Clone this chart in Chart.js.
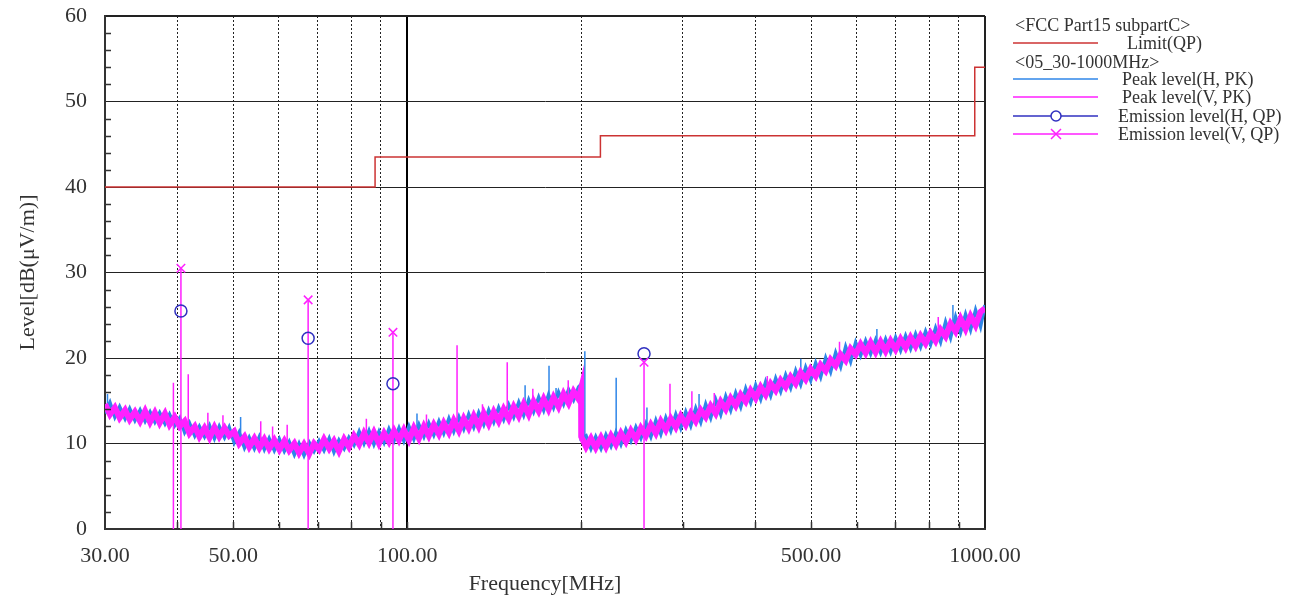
<!DOCTYPE html>
<html>
<head>
<meta charset="utf-8">
<script src="https://cdn.jsdelivr.net/npm/chart.js@4.4.1/dist/chart.umd.min.js"></script>
<style>
  html, body { margin: 0; padding: 0; background: #fff; }
  #wrap { position: relative; width: 1295px; height: 600px; }
  #graph { display: block; }
  #legend div { position: absolute; font-family: "Liberation Serif", serif; font-size: 18px; color: #333; line-height: 20px; white-space: nowrap; }
  #legend svg { position: absolute; left: 1005px; top: 30px; }
</style>
</head>
<body>
<div id="wrap">
  <canvas id="graph"></canvas>
  <div id="legend">
    <div style="left:1015px;top:15px">&lt;FCC Part15 subpartC&gt;</div>
    <div style="left:1127px;top:33px">Limit(QP)</div>
    <div style="left:1015px;top:52px">&lt;05_30-1000MHz&gt;</div>
    <div style="left:1122px;top:69px">Peak level(H, PK)</div>
    <div style="left:1122px;top:87px">Peak level(V, PK)</div>
    <div style="left:1118px;top:106px">Emission level(H, QP)</div>
    <div style="left:1118px;top:124px">Emission level(V, QP)</div>
    <svg width="100" height="115">
      <line x1="8" y1="13" x2="93" y2="13" stroke="#cc3333" stroke-width="1.5"/>
      <line x1="8" y1="49" x2="93" y2="49" stroke="#2f86e8" stroke-width="1.5"/>
      <line x1="8" y1="67" x2="93" y2="67" stroke="#ff20ff" stroke-width="1.5"/>
      <line x1="8" y1="86" x2="93" y2="86" stroke="#3030c0" stroke-width="1.5"/>
      <circle cx="51" cy="86" r="5" fill="#fff" stroke="#3030c0" stroke-width="1.5"/>
      <line x1="8" y1="104" x2="93" y2="104" stroke="#ff20ff" stroke-width="1.5"/>
      <path d="M46 99 L56 109 M56 99 L46 109" stroke="#ff20ff" stroke-width="1.5"/>
    </svg>
  </div>
</div>
<script>
// x grid / ticks (MHz)
const xGrid = [30, 40, 50, 60, 70, 80, 90, 100, 200, 300, 400, 500, 600, 700, 800, 900, 1000];
const xLabels = [30, 50, 100, 500, 1000];

// limit line FCC Part15 subpartC (QP)
const limitFreq = [30, 88, 88, 216, 216, 960, 960, 1000];
const limitLevel = [40, 40, 43.5, 43.5, 46, 46, 54, 54];

// peak scan frequencies (MHz)
const freqs = [
  30, 30.6, 31.2, 31.8, 32.5, 33.1, 33.8, 34.5, 35.2, 35.9,
  36.6, 37.3, 38.1, 38.8, 39.6, 40.4, 41.2, 42.0, 42.9, 43.7,
  44.6, 45.5, 46.4, 47.3, 48.3, 49.2, 50.2, 51.2, 52.3, 53.3,
  54.4, 55.5, 56.6, 57.7, 58.9, 60.1, 61.3, 62.5, 63.8, 65.0,
  66.3, 67.7, 69.0, 70.4, 71.8, 73.3, 74.7, 76.2, 77.8, 79.3,
  80.9, 82.6, 84.2, 85.9, 87.6, 89.4, 91.2, 93.0, 94.9, 96.8,
  98.7, 100.7, 102.7, 104.8, 106.9, 109.0, 111.2, 113.5, 115.7, 118.1,
  120.4, 122.9, 125.3, 127.8, 130.4, 133.0, 135.7, 138.4, 141.2, 144.0,
  146.9, 149.9, 152.9, 156.0, 159.1, 162.3, 165.5, 168.9, 172.3, 175.7,
  179.2, 182.8, 186.5, 190.3, 194.1, 198.0, 200.0, 200.1, 204.0, 208.0,
  212.0, 216.5, 220.8, 225.3, 229.8, 234.4, 239.1, 243.9, 248.8, 253.8,
  258.9, 264.1, 269.4, 274.8, 280.3, 285.9, 291.7, 297.5, 303.5, 309.6,
  315.8, 322.2, 328.6, 335.2, 342.0, 348.9, 355.9, 363.0, 370.3, 377.8,
  385.4, 393.1, 401.0, 409.1, 417.3, 425.7, 434.3, 443.0, 451.9, 461.0,
  470.3, 479.8, 489.4, 499.3, 509.3, 519.5, 530.0, 540.6, 551.5, 562.6,
  573.9, 585.4, 597.2, 609.2, 621.5, 634.0, 646.7, 659.7, 673.0, 686.5,
  700.3, 714.4, 728.8, 743.4, 758.4, 773.6, 789.2, 805.1, 821.3, 837.8,
  854.6, 871.8, 889.4, 907.2, 925.5, 944.1, 963.1, 982.5, 1000
];

// Peak level(H, PK)
const peakH = [
  13.5, 14.8, 13.1, 14.3, 12.9, 14.1, 12.7, 13.9, 12.6, 13.7,
  12.5, 13.6, 12.3, 13.4, 12.1, 13.0, 11.3, 12.4, 10.9, 12.0,
  10.8, 12.1, 10.6, 12.0, 10.7, 11.9, 10.1, 11.3, 9.5, 10.7,
  9.4, 10.8, 9.3, 10.6, 9.2, 10.5, 9.1, 10.2, 8.7, 10.0,
  8.6, 10.1, 9.1, 10.3, 9.2, 10.6, 9.0, 10.4, 9.4, 10.7,
  9.8, 11.4, 10.0, 11.5, 9.9, 11.4, 10.1, 11.7, 10.3, 11.8,
  10.3, 12.0, 10.5, 12.2, 10.8, 12.4, 11.0, 12.6, 11.2, 12.9,
  11.4, 13.1, 11.7, 13.4, 11.9, 13.6, 12.2, 13.9, 12.5, 14.2,
  12.8, 14.5, 13.1, 14.8, 13.3, 15.1, 13.7, 15.4, 13.9, 15.7,
  14.2, 16.0, 14.6, 16.3, 15.1, 16.6, 16.9, 10.6, 10.9, 9.4,
  10.8, 9.4, 11.0, 9.7, 11.3, 9.9, 11.6, 10.3, 11.9, 10.6,
  12.3, 10.8, 12.7, 11.1, 13.0, 11.5, 13.4, 11.8, 13.7, 12.1,
  14.1, 12.5, 14.6, 13.0, 15.1, 13.4, 15.5, 13.9, 15.9, 14.3,
  16.4, 14.8, 16.8, 15.2, 17.2, 15.6, 17.6, 16.1, 18.0, 16.5,
  18.5, 16.9, 18.9, 17.4, 19.4, 17.8, 20.0, 18.4, 20.6, 19.0,
  21.3, 19.6, 21.8, 20.3, 22.0, 20.5, 22.1, 20.6, 22.2, 20.7,
  22.4, 20.9, 22.6, 21.1, 22.8, 21.3, 23.1, 21.6, 23.5, 21.9,
  24.2, 22.4, 24.8, 23.0, 25.1, 23.3, 25.6, 23.7, 26.2
];

// Peak level(V, PK)
const peakV = [
  14.6, 13.4, 14.2, 13.0, 13.9, 12.8, 13.7, 12.6, 13.8, 12.5,
  13.6, 12.4, 13.5, 12.2, 13.1, 12.0, 12.6, 11.2, 12.0, 10.8,
  11.8, 10.7, 11.9, 10.8, 11.8, 10.9, 11.4, 10.0, 10.8, 9.6,
  10.6, 9.5, 10.5, 9.4, 10.4, 9.3, 10.3, 9.2, 10.0, 8.9,
  9.9, 8.8, 10.0, 9.3, 10.5, 9.4, 10.3, 9.1, 10.5, 9.6,
  10.9, 9.9, 11.2, 10.1, 11.3, 10.0, 11.2, 10.2, 11.5, 10.4,
  11.6, 10.4, 11.8, 10.6, 12.0, 10.9, 12.2, 11.1, 12.4, 11.3,
  12.7, 11.5, 12.9, 11.8, 13.2, 12.0, 13.5, 12.3, 13.7, 12.6,
  14.0, 12.9, 14.3, 13.2, 14.6, 13.4, 14.9, 13.8, 15.2, 14.0,
  15.4, 14.3, 15.8, 14.7, 16.1, 15.2, 16.4, 10.8, 9.6, 10.6,
  9.5, 10.7, 9.6, 10.9, 9.9, 11.2, 10.2, 11.5, 10.5, 11.8,
  10.9, 12.2, 11.2, 12.6, 11.6, 12.9, 11.9, 13.2, 12.2, 13.5,
  12.6, 13.9, 13.1, 14.4, 13.5, 14.9, 14.0, 15.3, 14.4, 15.7,
  14.9, 16.2, 15.3, 16.6, 15.7, 17.0, 16.2, 17.4, 16.6, 17.8,
  17.0, 18.3, 17.5, 18.7, 17.9, 19.2, 18.5, 19.8, 19.1, 20.4,
  19.7, 21.1, 20.4, 21.6, 20.6, 21.8, 20.7, 21.9, 20.8, 22.0,
  21.0, 22.2, 21.2, 22.4, 21.4, 22.6, 21.7, 22.9, 22.0, 23.3,
  22.5, 24.0, 23.1, 24.6, 23.4, 24.9, 23.8, 25.4, 25.8
];

// narrow spikes in the peak traces (from, to)
const spikeFreqV = [39.4, 41.8, 45.2, 48.0, 55.8, 58.5, 62.0, 85.0, 108.0, 122.0, 135.0, 149.0, 165.0, 190.0, 285.0, 311.0, 340.0, 420.0, 560.0, 830.0];
const spikeBaseV = [0, 12.0, 11.5, 11.2, 10.0, 9.9, 9.8, 10.7, 11.5, 12.0, 12.8, 13.5, 14.2, 15.2, 12.4, 13.0, 14.0, 16.0, 19.8, 22.5];
const spikeTopV = [17.1, 18.1, 13.6, 13.3, 12.6, 12.0, 12.2, 12.9, 13.4, 21.5, 14.6, 19.5, 16.4, 17.4, 17.0, 16.1, 15.9, 17.9, 21.9, 24.8];

const spikeFreqH = [30.3, 51.5, 104.0, 160.0, 176.0, 181.0, 203.0, 230.0, 260.0, 320.0, 480.0, 650.0, 880.0];
const spikeBaseH = [13.8, 10.5, 11.2, 14.0, 14.6, 14.8, 10.0, 10.5, 11.5, 13.3, 18.0, 21.2, 23.5];
const spikeTopH = [15.8, 13.1, 13.5, 16.8, 19.1, 16.5, 20.8, 17.7, 14.2, 15.8, 19.9, 23.4, 26.2];

// QP emission levels
const qpFreq = [40.6, 67.4, 94.5, 257.0];
const qpLevelH = [25.5, 22.3, 17.0, 20.5];
const qpLevelV = [30.5, 26.8, 23.0, 19.5];

const fontFamily = '"Liberation Serif", "DejaVu Serif", serif';

function pts(xs, ys) {
  return xs.map((f, i) => ({x: f, y: ys[i]}));
}
function impulses(xs, lo, hi) {
  return xs.flatMap((f, i) => [{x: f, y: lo[i]}, {x: f, y: hi[i]}, {x: f, y: null}]);
}

// tick marks drawn inside the frame
const innerTicks = {
  id: 'innerTicks',
  afterDraw(chart) {
    const {ctx, chartArea, scales: {x, y}} = chart;
    ctx.save();
    ctx.strokeStyle = '#333';
    ctx.lineWidth = 1.5;
    ctx.beginPath();
    for (let v = 2; v < 60; v += 2) {
      if (v % 10 === 0) continue;
      const py = Math.round(y.getPixelForValue(v)) + 0.5;
      ctx.moveTo(chartArea.left, py);
      ctx.lineTo(chartArea.left + 6, py);
    }
    xGrid.forEach(f => {
      if (f === 30 || f === 1000) return;
      const px = Math.round(x.getPixelForValue(f)) + 0.5;
      ctx.moveTo(px, chartArea.bottom);
      ctx.lineTo(px, chartArea.bottom - 7);
    });
    ctx.stroke();
    ctx.restore();
  }
};

const solidX = v => v === 30 || v === 100 || v === 1000;

const ctx = document.getElementById('graph');

new Chart(ctx, {
  type: 'line',
  data: {
    datasets: [
      {
        label: 'Emission level(V, QP)',
        data: pts(qpFreq, qpLevelV),
        showLine: false,
        pointStyle: 'crossRot',
        pointRadius: 6,
        borderColor: '#ff20ff',
        borderWidth: 1.5,
        order: 0
      },
      {
        label: 'Emission level(H, QP)',
        data: pts(qpFreq, qpLevelH),
        showLine: false,
        pointStyle: 'circle',
        pointRadius: 6,
        borderColor: '#3030c0',
        backgroundColor: 'rgba(0,0,0,0)',
        borderWidth: 1.5,
        order: 1
      },
      {
        label: 'QP V lines',
        data: impulses(qpFreq, qpFreq.map(() => 0), qpLevelV),
        borderColor: '#ff20ff',
        borderWidth: 1.5,
        pointRadius: 0,
        spanGaps: false,
        order: 2
      },
      {
        label: 'Limit(QP)',
        data: pts(limitFreq, limitLevel),
        borderColor: '#cc3333',
        borderWidth: 1.5,
        pointRadius: 0,
        order: 3
      },
      {
        label: 'Peak V spikes',
        data: impulses(spikeFreqV, spikeBaseV, spikeTopV),
        borderColor: '#ff20ff',
        borderWidth: 1.5,
        pointRadius: 0,
        spanGaps: false,
        order: 4
      },
      {
        label: 'Peak level(V, PK)',
        data: pts(freqs, peakV),
        borderColor: '#ff20ff',
        borderWidth: 6,
        pointRadius: 0,
        order: 5
      },
      {
        label: 'Peak H spikes',
        data: impulses(spikeFreqH, spikeBaseH, spikeTopH),
        borderColor: '#2f86e8',
        borderWidth: 1.5,
        pointRadius: 0,
        spanGaps: false,
        order: 6
      },
      {
        label: 'Peak level(H, PK)',
        data: pts(freqs, peakH),
        borderColor: '#2f86e8',
        borderWidth: 3.5,
        pointRadius: 0,
        order: 7
      }
    ]
  },
  options: {
    responsive: true,
    maintainAspectRatio: false,
    animation: false,
    layout: { padding: { left: 0, top: 16, right: 310, bottom: 0 } },
    plugins: { legend: { display: false }, tooltip: { enabled: false } },
    elements: { line: { tension: 0 } },
    scales: {
      x: {
        type: 'logarithmic',
        min: 30,
        max: 1000,
        afterBuildTicks: s => { s.ticks = xGrid.map(v => ({value: v})); },
        afterFit: s => { s.height = 71; },
        ticks: {
          autoSkip: false,
          maxRotation: 0,
          padding: 14,
          color: '#333',
          font: { family: fontFamily, size: 22 },
          callback: v => xLabels.includes(v) ? v.toFixed(2) : ''
        },
        grid: {
          drawTicks: false,
          color: c => c.tick && c.tick.value === 100 ? '#000' : '#222',
          lineWidth: c => c.tick && (c.tick.value === 100 || c.tick.value === 1000) ? 2 : 1
        },
        border: {
          color: '#333',
          width: 2,
          dash: c => (c.tick && !solidX(c.tick.value)) ? [2, 2] : []
        },
        title: {
          display: true,
          text: 'Frequency[MHz]',
          color: '#333',
          font: { family: fontFamily, size: 22 },
          padding: { top: 0, bottom: 3 }
        }
      },
      y: {
        min: 0,
        max: 60,
        afterFit: s => { s.width = 105; },
        ticks: {
          stepSize: 10,
          padding: 0,
          color: '#333',
          font: { family: fontFamily, size: 22 }
        },
        grid: {
          drawTicks: true,
          tickLength: 18,
          tickColor: 'rgba(0,0,0,0)',
          color: '#222',
          lineWidth: c => c.tick && (c.tick.value === 60) ? 2 : 1
        },
        border: { color: '#333', width: 2 },
        title: {
          display: true,
          text: 'Level[dB(μV/m)]',
          color: '#333',
          font: { family: fontFamily, size: 22 },
          padding: { top: 15, bottom: 0 }
        }
      }
    }
  },
  plugins: [innerTicks]
});
</script>
</body>
</html>
